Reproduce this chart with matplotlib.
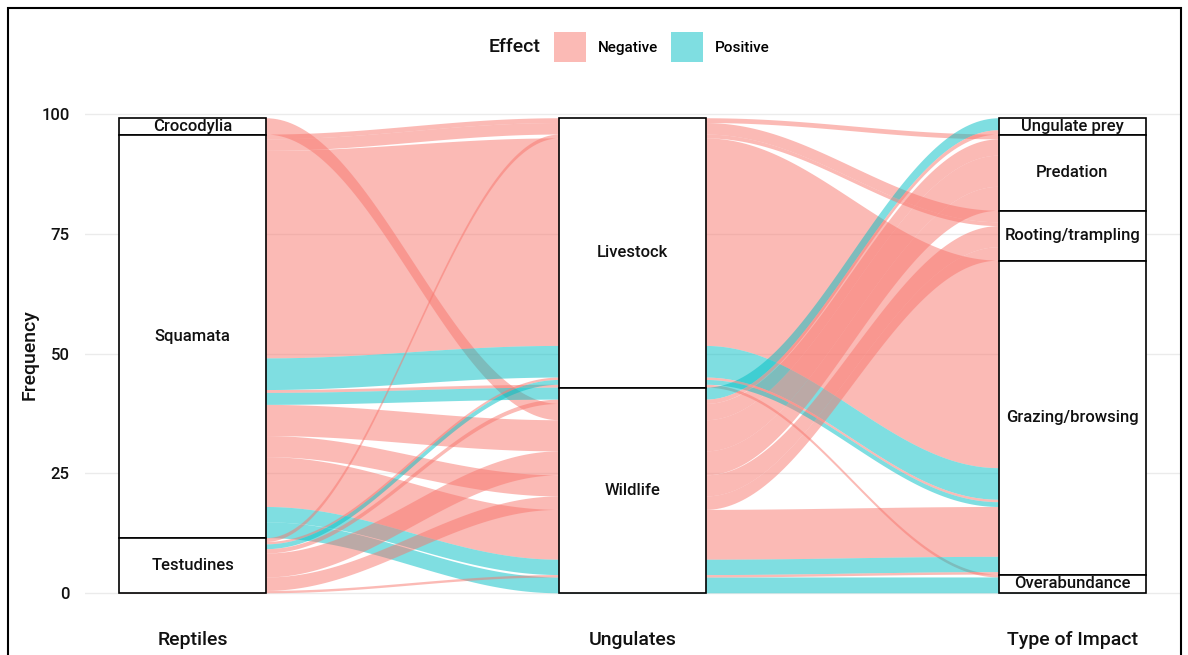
#!/usr/bin/env python3
"""Alluvial plot: reptiles -> ungulates -> type of impact, coloured by effect."""

import matplotlib

matplotlib.use("Agg")

import matplotlib.pyplot as plt
import numpy as np
from matplotlib.patches import Patch, Polygon, Rectangle

plt.rcParams["font.family"] = ["Roboto", "DejaVu Sans"]
plt.rcParams["font.weight"] = "medium"

reptile_levels = ["Crocodylia", "Squamata", "Testudines"]
ungulate_levels = ["Livestock", "Wildlife"]
impact_levels = ["Ungulate prey", "Predation", "Rooting/trampling",
                 "Grazing/browsing", "Overabundance"]
effect_levels = ["Negative", "Positive"]
axis_titles = ["Reptiles", "Ungulates", "Type of Impact"]

# one entry per alluvium
reptile = ["Crocodylia",
           "Squamata", "Squamata", "Squamata", "Squamata", "Squamata",
           "Squamata", "Squamata", "Squamata", "Squamata", "Squamata", "Squamata",
           "Testudines", "Testudines", "Testudines", "Testudines",
           "Testudines", "Testudines", "Testudines"]
ungulate = ["Wildlife",
            "Livestock", "Livestock", "Livestock", "Livestock", "Livestock",
            "Wildlife", "Wildlife", "Wildlife", "Wildlife", "Wildlife", "Wildlife",
            "Livestock", "Livestock", "Livestock", "Wildlife",
            "Wildlife", "Wildlife", "Wildlife"]
impact = ["Predation",
          "Predation", "Rooting/trampling", "Grazing/browsing", "Grazing/browsing", "Overabundance",
          "Ungulate prey", "Predation", "Rooting/trampling", "Grazing/browsing",
          "Grazing/browsing", "Overabundance",
          "Rooting/trampling", "Grazing/browsing", "Grazing/browsing", "Ungulate prey",
          "Predation", "Rooting/trampling", "Grazing/browsing"]
effect = ["Negative",
          "Negative", "Negative", "Negative", "Positive", "Negative",
          "Positive", "Negative", "Negative", "Negative", "Positive", "Positive",
          "Negative", "Negative", "Positive", "Negative",
          "Negative", "Negative", "Negative"]
freq = [3.4,
        1.0, 2.4, 43.3, 6.6, 0.6,
        2.5, 6.5, 4.4, 10.4, 3.2, 3.3,
        0.8, 0.5, 1.0, 0.9,
        5.0, 2.8, 0.5]

fill_colors = {"Negative": "#F8766D", "Positive": "#00BFC4"}

columns = [reptile, ungulate, impact]
levels = [reptile_levels, ungulate_levels, impact_levels]
# lode ordering inside each stratum (zigzag guidance), effect breaks ties
guidance = {0: [0, 1, 2], 1: [1, 2, 0], 2: [2, 1, 0]}
width = 1 / 3


def lode_bounds(axis):
    n = len(freq)

    def key(i):
        k = tuple(levels[a].index(columns[a][i]) for a in guidance[axis])
        return k + (effect_levels.index(effect[i]),)

    lo = np.zeros(n)
    hi = np.zeros(n)
    top = sum(freq)
    for i in sorted(range(n), key=key):
        hi[i] = top
        lo[i] = top - freq[i]
        top = lo[i]
    return lo, hi


def strata_bounds(axis):
    top = sum(freq)
    out = []
    for lev in levels[axis]:
        total = sum(f for f, v in zip(freq, columns[axis]) if v == lev)
        out.append((lev, top - total, top))
        top -= total
    return out


def edge(ys):
    xs_all, ys_all = [], []
    t = np.linspace(0, 1, 80)[1:-1]
    s = (1 - np.cos(np.pi * t)) / 2
    for k in range(3):
        xs_all += [k + 1 - width / 2, k + 1 + width / 2]
        ys_all += [ys[k], ys[k]]
        if k < 2:
            x0 = k + 1 + width / 2
            x1 = k + 2 - width / 2
            xs_all += list(x0 + (x1 - x0) * t)
            ys_all += list(ys[k] + (ys[k + 1] - ys[k]) * s)
    return np.array(xs_all), np.array(ys_all)


fig = plt.figure(figsize=(11.88, 6.55), dpi=100)
ax = fig.add_axes([85 / 1188, 38 / 655, 1095 / 1188, 522 / 655])

bounds = [lode_bounds(a) for a in range(3)]
for i in range(len(freq)):
    xu, yu = edge([bounds[a][1][i] for a in range(3)])
    xl, yl = edge([bounds[a][0][i] for a in range(3)])
    pts = np.column_stack([np.concatenate([xu, xl[::-1]]),
                           np.concatenate([yu, yl[::-1]])])
    ax.add_patch(Polygon(pts, closed=True, facecolor=fill_colors[effect[i]],
                         alpha=0.5, linewidth=0, zorder=2))

for a in range(3):
    for lev, lo, hi in strata_bounds(a):
        ax.add_patch(Rectangle((a + 1 - width / 2, lo), width, hi - lo,
                               facecolor="white", edgecolor="black",
                               linewidth=1.2, zorder=3))
        ax.text(a + 1, (lo + hi) / 2, lev, ha="center", va="center",
                fontsize=12, color="#111111", zorder=4)

ax.set_xlim(0.755, 3.245)
ax.set_ylim(-4.95, 103.95)
ax.set_xticks([1, 2, 3])
ax.set_xticklabels(axis_titles, fontsize=14, color="#111111")
ax.set_yticks([0, 25, 50, 75, 100])
ax.set_yticklabels(["0", "25", "50", "75", "100"], fontsize=12, color="#111111")
ax.tick_params(length=0)
ax.tick_params(axis="x", pad=10)
ax.tick_params(axis="y", pad=11)
for sp in ax.spines.values():
    sp.set_visible(False)
ax.grid(True, axis="y", color="#EBEBEB", linewidth=1.0)
ax.set_axisbelow(True)

fig.text(30 / 1188, 1 - 355 / 655, "Frequency", rotation=90, ha="center",
         va="center", fontsize=14, color="#111111")

handles = [Patch(facecolor=fill_colors[e], alpha=0.5, edgecolor="none")
           for e in effect_levels]
fig.legend(handles, effect_levels, loc="center left",
           bbox_to_anchor=(554 / 1188, 1 - 47 / 655), ncol=2, frameon=False,
           fontsize=11, handlelength=2.1, handleheight=2.65, handletextpad=0.8,
           columnspacing=0.8, borderpad=0, borderaxespad=0)
fig.text(541 / 1188, 1 - 47 / 655, "Effect", ha="right", va="center",
         fontsize=14, color="#111111")

fig.add_artist(Rectangle((8 / 1188, -0.05), 1173 / 1188, 1.05 - 8 / 655,
                         transform=fig.transFigure, fill=False,
                         edgecolor="black", linewidth=1.5))

fig.savefig("out.png", dpi=100)
